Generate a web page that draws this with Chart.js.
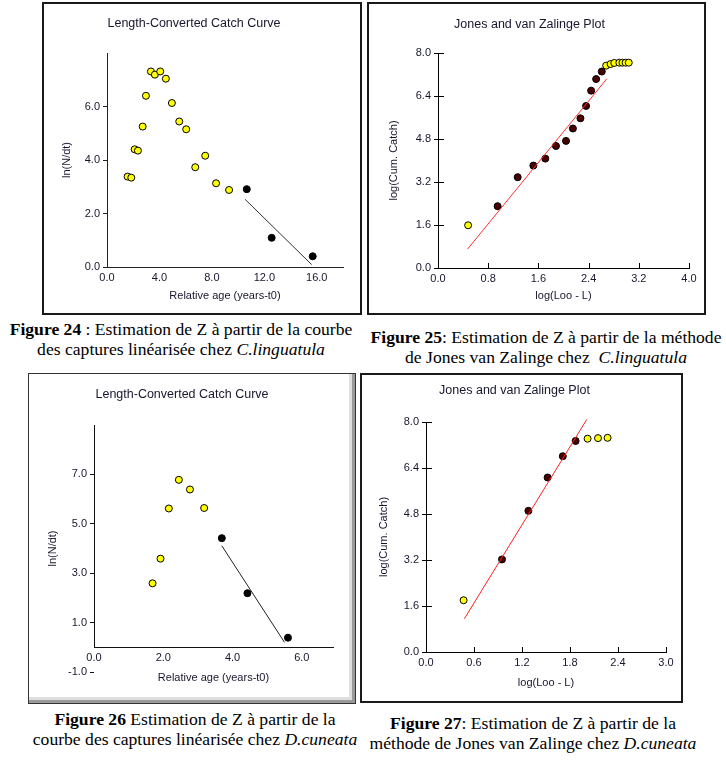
<!DOCTYPE html>
<html>
<head>
<meta charset="utf-8">
<script src="https://cdn.jsdelivr.net/npm/chart.js@4.4.0/dist/chart.umd.min.js"></script>
<style>
  body { margin: 0; background: #fff; width: 726px; height: 764px; position: relative; overflow: hidden; }
  .box { position: absolute; box-sizing: border-box; border: 2px solid #1a1a1a; background: #fff; }
  .box.win { border: 1px solid #333; box-shadow: inset -3px -3px 0 #9a9a9a, inset -6px -6px 0 #dedede; }
  canvas { position: absolute; }
  .cap { position: absolute; text-align: center; font-family: "Liberation Serif", "Times New Roman", serif;
         font-size: 17.6px; line-height: 20px; color: #000; white-space: nowrap; }
  .cap b { font-weight: bold; }
</style>
</head>
<body>
<div class="box" style="left:42px;top:2px;width:320px;height:313px"></div>
<div class="box" style="left:367px;top:2px;width:339px;height:313px"></div>
<div class="box win" style="left:28px;top:373px;width:328px;height:331px"></div>
<div class="box" style="left:360px;top:373px;width:323px;height:330px"></div>

<canvas id="c24" width="314" height="307" style="left:45px;top:5px"></canvas>
<canvas id="c25" width="333" height="307" style="left:370px;top:5px"></canvas>
<canvas id="c26" width="318" height="321" style="left:31px;top:376px"></canvas>
<canvas id="c27" width="317" height="324" style="left:363px;top:376px"></canvas>

<div class="cap" style="left:0px;top:319px;width:362px">
  <b>Figure 24</b> : Estimation de Z à partir de la courbe<br>des captures linéarisée chez <i>C.linguatula</i>
</div>
<div class="cap" style="left:362px;top:327px;width:368px">
  <b>Figure 25</b>: Estimation de Z à partir de la méthode<br>de Jones van Zalinge chez&nbsp; <i>C.linguatula</i>
</div>
<div class="cap" style="left:20px;top:709px;width:350px">
  <b>Figure 26</b> Estimation de Z à partir de la<br>courbe des captures linéarisée chez <i>D.cuneata</i>
</div>
<div class="cap" style="left:360px;top:713px;width:346px">
  <b>Figure 27</b>: Estimation de Z à partir de la<br>méthode de Jones van Zalinge chez <i>D.cuneata</i>
</div>

<script>
// Figure 24 - catch curve, C.linguatula
const f24OutX = [1.57, 1.85, 2.11, 2.36, 2.72, 2.97, 3.35, 3.65, 4.06, 4.49, 4.95, 5.51, 6.04, 6.73, 7.49, 8.32, 9.31];
const f24OutY = [3.38, 3.34, 4.40, 4.35, 5.25, 6.40, 7.31, 7.19, 7.31, 7.04, 6.13, 5.44, 5.15, 3.73, 4.16, 3.13, 2.88];
const f24FitX = [10.66, 12.56, 15.69];
const f24FitY = [2.91, 1.09, 0.40];
const f24LineX = [10.53, 15.61];
const f24LineY = [2.53, 0.09];
const f24XTicks = [0, 4, 8, 12, 16];
const f24YTicks = [0, 2, 4, 6];

// Figure 25 - Jones & van Zalinge, C.linguatula
const f25OutX = [0.48, 2.68, 2.75, 2.81, 2.89, 2.94, 2.99, 3.04];
const f25OutY = [1.59, 7.53, 7.59, 7.63, 7.64, 7.64, 7.64, 7.64];
const f25FitX = [0.95, 1.27, 1.52, 1.71, 1.88, 2.04, 2.15, 2.27, 2.36, 2.44, 2.52, 2.61];
const f25FitY = [2.30, 3.38, 3.81, 4.07, 4.54, 4.73, 5.19, 5.57, 6.03, 6.60, 7.03, 7.31];
const f25LineX = [0.47, 2.69];
const f25LineY = [0.70, 7.04];
const f25XTicks = [0, 0.8, 1.6, 2.4, 3.2, 4.0];
const f25YTicks = [0, 1.6, 3.2, 4.8, 6.4, 8.0];

// Figure 26 - catch curve, D.cuneata
const f26OutX = [1.69, 1.92, 2.16, 2.45, 2.77, 3.18];
const f26OutY = [2.59, 3.59, 5.62, 6.78, 6.39, 5.64];
const f26FitX = [3.69, 4.43, 5.60];
const f26FitY = [4.42, 2.19, 0.39];
const f26LineX = [3.69, 5.50];
const f26LineY = [4.11, 0.20];
const f26XTicks = [0, 2, 4, 6];
const f26YTicks = [-1, 1, 3, 5, 7];

// Figure 27 - Jones & van Zalinge, D.cuneata
const f27OutX = [0.47, 2.02, 2.15, 2.27];
const f27OutY = [1.80, 7.42, 7.44, 7.45];
const f27FitX = [0.95, 1.28, 1.52, 1.71, 1.87];
const f27FitY = [3.22, 4.91, 6.07, 6.81, 7.34];
const f27LineX = [0.48, 2.01];
const f27LineY = [1.16, 8.09];
const f27XTicks = [0, 0.6, 1.2, 1.8, 2.4, 3.0];
const f27YTicks = [0, 1.6, 3.2, 4.8, 6.4, 8.0];

const SANS = "'Liberation Sans', Arial, sans-serif";
const TEXT = "#16162e";

function pts(xs, ys) {
  return xs.map((x, i) => ({ x: x, y: ys[i] }));
}

// extra axis bits: inner tick marks, y axis line starting at a value
const axisExtras = {
  id: "axisExtras",
  afterDraw(chart, args, opts) {
    const ctx = chart.ctx;
    const sx = chart.scales.x, sy = chart.scales.y;
    const x0 = sx.getPixelForValue(sx.min);
    const yBase = opts.yFrom !== undefined ? sy.getPixelForValue(opts.yFrom) : sy.bottom;
    ctx.save();
    ctx.strokeStyle = opts.color;
    ctx.lineWidth = 1;
    ctx.beginPath();
    if (opts.yFrom !== undefined) {
      ctx.moveTo(x0 + 0.5, yBase);
      ctx.lineTo(x0 + 0.5, sy.top);
    }
    if (opts.xIn) {
      sx.ticks.forEach(t => {
        const px = Math.round(sx.getPixelForValue(t.value)) + 0.5;
        ctx.moveTo(px, yBase);
        ctx.lineTo(px, yBase - opts.xIn);
      });
    }
    if (opts.yIn) {
      sy.ticks.forEach(t => {
        const py = Math.round(sy.getPixelForValue(t.value)) + 0.5;
        ctx.moveTo(x0, py);
        ctx.lineTo(x0 + opts.yIn, py);
      });
    }
    ctx.stroke();
    ctx.restore();
  }
};

function makeChart(id, d, L) {
  const tickFont = { family: SANS, size: 11 };
  return new Chart(document.getElementById(id), {
    type: "scatter",
    data: {
      datasets: [
        { data: pts(d.lineX, d.lineY), showLine: true, pointRadius: 0, borderColor: d.lineColor,
          borderWidth: 1, clip: false },
        { data: pts(d.fitX, d.fitY), pointRadius: 3.5, backgroundColor: d.fitColor,
          borderColor: "#000", borderWidth: 1, clip: false },
        { data: pts(d.outX, d.outY), pointRadius: 3.5, backgroundColor: "#ffff00",
          borderColor: "#000", borderWidth: 1, clip: false }
      ]
    },
    options: {
      responsive: false,
      animation: false,
      devicePixelRatio: 1,
      layout: { padding: { left: 0, top: 0, right: L.padRight, bottom: L.padBottom } },
      plugins: {
        legend: { display: false },
        tooltip: { enabled: false },
        title: {
          display: true, text: d.title, color: TEXT,
          font: { family: SANS, size: 12.5, weight: "normal" },
          padding: { top: L.titleTop, bottom: L.titleBottom }
        },
        axisExtras: { color: d.axisColor, xIn: L.xIn, yIn: L.yIn, yFrom: L.yFrom }
      },
      scales: {
        x: {
          type: "linear",
          position: L.xAtZero ? { y: 0 } : "bottom",
          min: d.xMin, max: d.xMax,
          afterBuildTicks: s => { s.ticks = d.xTicks.map(v => ({ value: v })); },
          afterFit: s => { s.height = L.xHeight; },
          ticks: { callback: v => v.toFixed(1), font: tickFont, color: TEXT, padding: 4, autoSkip: false, maxRotation: 0 },
          grid: { display: true, drawOnChartArea: false, drawTicks: false, color: d.axisColor },
          border: { color: d.axisColor, width: 1 },
          title: { display: true, text: d.xTitle, color: TEXT, font: tickFont, padding: { top: 0, bottom: L.xTitlePad } }
        },
        y: {
          type: "linear",
          position: "left",
          min: d.yMin, max: d.yMax,
          afterBuildTicks: s => { s.ticks = d.yTicks.map(v => ({ value: v })); },
          afterFit: s => { s.width = L.yWidth; },
          ticks: { callback: v => v.toFixed(1), font: tickFont, color: TEXT, padding: 3, autoSkip: false },
          grid: { display: true, drawOnChartArea: false, drawTicks: true, tickLength: 4, color: d.axisColor },
          border: { display: L.yFrom === undefined, color: d.axisColor, width: 1 },
          title: { display: true, text: d.yTitle, color: TEXT, font: tickFont, padding: { top: L.yTitlePad, bottom: 0 } }
        }
      }
    },
    plugins: [axisExtras]
  });
}

makeChart("c24", {
  title: "Length-Converted Catch Curve", xTitle: "Relative age (years-t0)", yTitle: "ln(N/dt)",
  outX: f24OutX, outY: f24OutY, fitX: f24FitX, fitY: f24FitY, lineX: f24LineX, lineY: f24LineY,
  xTicks: f24XTicks, yTicks: f24YTicks, xMin: 0, xMax: 18, yMin: 0, yMax: 8,
  fitColor: "#000000", lineColor: "#333333", axisColor: "#222222"
}, { padRight: 16, padBottom: 0, titleTop: 11.5, titleBottom: 21.5, xHeight: 45, xTitlePad: 9.4,
     yWidth: 62, yTitlePad: 15.4 });

makeChart("c25", {
  title: "Jones and van Zalinge Plot", xTitle: "log(Loo - L)", yTitle: "log(Cum. Catch)",
  outX: f25OutX, outY: f25OutY, fitX: f25FitX, fitY: f25FitY, lineX: f25LineX, lineY: f25LineY,
  xTicks: f25XTicks, yTicks: f25YTicks, xMin: 0, xMax: 4, yMin: 0, yMax: 8,
  fitColor: "#4a0000", lineColor: "#ff3030", axisColor: "#000000"
}, { padRight: 14, padBottom: 0, titleTop: 12.5, titleBottom: 20.5, xHeight: 44, xTitlePad: 9.4,
     yWidth: 68, yTitlePad: 17.4, xIn: 5, yIn: 6 });

makeChart("c26", {
  title: "Length-Converted Catch Curve", xTitle: "Relative age (years-t0)", yTitle: "ln(N/dt)",
  outX: f26OutX, outY: f26OutY, fitX: f26FitX, fitY: f26FitY, lineX: f26LineX, lineY: f26LineY,
  xTicks: f26XTicks, yTicks: f26YTicks, xMin: 0, xMax: 6.9, yMin: -1, yMax: 9,
  fitColor: "#000000", lineColor: "#222222", axisColor: "#111111"
}, { padRight: 16, padBottom: 25, titleTop: 11.5, titleBottom: 22.5, xHeight: 40, xTitlePad: 2.4,
     yWidth: 63, yTitlePad: 15.4, xAtZero: true, yFrom: 0 });

makeChart("c27", {
  title: "Jones and van Zalinge Plot", xTitle: "log(Loo - L)", yTitle: "log(Cum. Catch)",
  outX: f27OutX, outY: f27OutY, fitX: f27FitX, fitY: f27FitY, lineX: f27LineX, lineY: f27LineY,
  xTicks: f27XTicks, yTicks: f27YTicks, xMin: 0, xMax: 3, yMin: 0, yMax: 8,
  fitColor: "#4a0000", lineColor: "#ff2020", axisColor: "#000000"
}, { padRight: 14, padBottom: 0, titleTop: 7.5, titleBottom: 23.5, xHeight: 48, xTitlePad: 10.4,
     yWidth: 63, yTitlePad: 14.4, xIn: 5, yIn: 6 });
</script>
</body>
</html>
